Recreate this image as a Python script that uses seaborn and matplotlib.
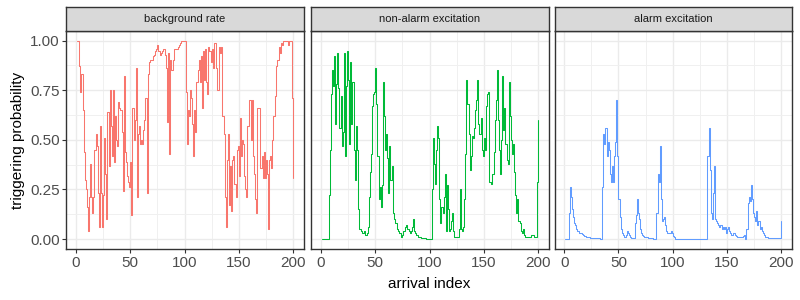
import numpy as np
import pandas as pd
import matplotlib
matplotlib.use("Agg")
import matplotlib.pyplot as plt
import seaborn as sns
from matplotlib.ticker import MultipleLocator

# facet names and colours (ggplot default hue palette)
facets = ["background rate", "non-alarm excitation", "alarm excitation"]
colors = ["#F8766D", "#00BA38", "#619CFF"]
arrival_index = np.arange(1, 201)

background_rate = [
    1.00, 1.00, 0.87, 0.74, 0.83, 0.65, 0.44, 0.30, 0.25, 0.16,
    0.04, 0.21, 0.38, 0.21, 0.13, 0.21, 0.45, 0.53, 0.47, 0.23,
    0.06, 0.57, 0.23, 0.06, 0.22, 0.51, 0.33, 0.10, 0.64, 0.37,
    0.75, 0.57, 0.42, 0.75, 0.39, 0.62, 0.50, 0.47, 0.69, 0.66,
    0.65, 0.54, 0.24, 0.82, 0.44, 0.39, 0.32, 0.29, 0.26, 0.39,
    0.12, 0.66, 0.50, 0.60, 0.86, 0.21, 0.53, 0.57, 0.48, 0.50,
    0.48, 0.55, 0.60, 0.71, 0.23, 0.83, 0.89, 0.90, 0.90, 0.90,
    0.92, 0.93, 0.95, 0.96, 0.98, 0.95, 0.93, 0.94, 0.95, 0.96,
    0.96, 0.93, 0.86, 0.59, 0.94, 0.43, 0.90, 0.85, 0.90, 0.96,
    0.96, 0.96, 0.96, 0.97, 0.98, 0.99, 1.00, 1.00, 1.00, 1.00,
    0.74, 0.48, 0.65, 0.62, 0.75, 0.71, 0.58, 0.42, 0.65, 0.54,
    0.79, 0.85, 0.90, 0.79, 0.92, 0.66, 0.95, 0.80, 0.96, 0.79,
    0.73, 0.97, 0.95, 0.89, 0.96, 0.86, 0.99, 0.99, 0.86, 0.75,
    0.75, 0.97, 0.94, 0.97, 0.62, 0.53, 0.21, 0.06, 0.40, 0.53,
    0.17, 0.37, 0.14, 0.40, 0.42, 0.28, 0.21, 0.45, 0.47, 0.32,
    0.61, 0.42, 0.50, 0.48, 0.32, 0.25, 0.21, 0.57, 0.70, 0.70,
    0.50, 0.70, 0.42, 0.33, 0.20, 0.13, 0.66, 0.66, 0.66, 0.36,
    0.42, 0.31, 0.44, 0.31, 0.40, 0.33, 0.05, 0.40, 0.42, 0.36,
    0.50, 0.62, 0.72, 0.87, 0.90, 0.90, 0.97, 0.94, 0.99, 0.98,
    1.00, 1.00, 1.00, 1.00, 0.98, 1.00, 1.00, 1.00, 0.71, 0.31,
]

non_alarm = [
    0.00, 0.00, 0.00, 0.00, 0.00, 0.00, 0.22, 0.45, 0.73, 0.85,
    0.77, 0.92, 0.58, 0.78, 0.94, 0.76, 0.56, 0.72, 0.47, 0.54,
    0.94, 0.42, 0.77, 0.95, 0.80, 0.48, 0.89, 0.58, 0.79, 0.45,
    0.30, 0.57, 0.45, 0.15, 0.05, 0.05, 0.04, 0.03, 0.03, 0.04,
    0.02, 0.03, 0.06, 0.21, 0.34, 0.43, 0.67, 0.73, 0.74, 0.86,
    0.68, 0.42, 0.20, 0.26, 0.16, 0.27, 0.79, 0.62, 0.45, 0.53,
    0.41, 0.23, 0.47, 0.30, 0.37, 0.13, 0.10, 0.08, 0.08, 0.05,
    0.04, 0.03, 0.03, 0.01, 0.02, 0.04, 0.06, 0.07, 0.05, 0.05,
    0.04, 0.03, 0.04, 0.06, 0.10, 0.04, 0.03, 0.02, 0.01, 0.01,
    0.01, 0.005, 0.005, 0.005, 0.003, 0.003, 0.00, 0.00, 0.00, 0.00,
    0.00, 0.25, 0.51, 0.38, 0.28, 0.45, 0.57, 0.51, 0.20, 0.08,
    0.16, 0.13, 0.21, 0.33, 0.04, 0.27, 0.15, 0.04, 0.05, 0.09,
    0.13, 0.04, 0.01, 0.01, 0.01, 0.01, 0.05, 0.25, 0.05, 0.04,
    0.06, 0.20, 0.43, 0.80, 0.68, 0.53, 0.35, 0.42, 0.52, 0.51,
    0.56, 0.65, 0.70, 0.80, 0.58, 0.53, 0.61, 0.45, 0.42, 0.51,
    0.45, 0.67, 0.73, 0.74, 0.29, 0.29, 0.28, 0.33, 0.44, 0.60,
    0.70, 0.85, 0.60, 0.45, 0.33, 0.50, 0.82, 0.55, 0.66, 0.48,
    0.40, 0.38, 0.79, 0.62, 0.50, 0.43, 0.48, 0.34, 0.22, 0.13,
    0.20, 0.09, 0.08, 0.04, 0.03, 0.05, 0.02, 0.01, 0.01, 0.01,
    0.01, 0.01, 0.01, 0.02, 0.02, 0.01, 0.01, 0.01, 0.29, 0.60,
]

alarm = [
    0.00, 0.00, 0.00, 0.13, 0.26, 0.21, 0.15, 0.11, 0.08, 0.07,
    0.05, 0.04, 0.04, 0.03, 0.03, 0.025, 0.02, 0.015, 0.015, 0.012,
    0.01, 0.01, 0.01, 0.006, 0.006, 0.006, 0.005, 0.005, 0.004, 0.004,
    0.003, 0.003, 0.002, 0.002, 0.26, 0.53, 0.48, 0.56, 0.42, 0.49,
    0.45, 0.33, 0.29, 0.37, 0.29, 0.42, 0.49, 0.70, 0.42, 0.20,
    0.11, 0.05, 0.03, 0.02, 0.01, 0.01, 0.02, 0.04, 0.03, 0.02,
    0.01, 0.006, 0.004, 0.003, 0.08, 0.12, 0.20, 0.13, 0.10, 0.05,
    0.03, 0.02, 0.015, 0.01, 0.01, 0.01, 0.007, 0.005, 0.004, 0.003,
    0.003, 0.002, 0.002, 0.002, 0.13, 0.33, 0.29, 0.47, 0.20, 0.09,
    0.10, 0.11, 0.07, 0.04, 0.03, 0.03, 0.03, 0.04, 0.03, 0.015,
    0.01, 0.001, 0.001, 0.001, 0.001, 0.001, 0.001, 0.001, 0.001, 0.001,
    0.001, 0.001, 0.001, 0.001, 0.001, 0.001, 0.001, 0.001, 0.001, 0.001,
    0.001, 0.001, 0.001, 0.001, 0.001, 0.001, 0.001, 0.001, 0.001, 0.001,
    0.001, 0.42, 0.56, 0.35, 0.13, 0.10, 0.23, 0.37, 0.10, 0.09,
    0.08, 0.07, 0.06, 0.07, 0.05, 0.06, 0.05, 0.06, 0.03, 0.05,
    0.06, 0.04, 0.03, 0.02, 0.02, 0.03, 0.02, 0.015, 0.01, 0.01,
    0.01, 0.01, 0.01, 0.01, 0.015, 0.02, 0.00, 0.05, 0.18, 0.21,
    0.19, 0.27, 0.20, 0.13, 0.11, 0.09, 0.14, 0.07, 0.09, 0.05,
    0.06, 0.04, 0.03, 0.02, 0.01, 0.01, 0.01, 0.003, 0.003, 0.003,
    0.003, 0.003, 0.003, 0.003, 0.003, 0.003, 0.003, 0.003, 0.003, 0.09,
]

df = pd.DataFrame({
    "arrival index": np.tile(arrival_index, 3),
    "triggering probability": background_rate + non_alarm + alarm,
    "component": np.repeat(facets, len(arrival_index)),
})

sns.set_style("white")
plt.rcParams["font.family"] = ["Liberation Sans", "DejaVu Sans"]

fig = plt.figure(figsize=(8, 3), dpi=100)

# panel layout in pixels (800 x 300 figure)
lefts = [66.3, 311.3, 554.5]
width = 237.5
top_px, bottom_px = 30.7, 249.0
strip_top = 7.3

for k, (name, col) in enumerate(zip(facets, colors)):
    ax = fig.add_axes([lefts[k] / 800, 1 - bottom_px / 300,
                       width / 800, (bottom_px - top_px) / 300])
    sub = df[df["component"] == name]
    # step line, like geom_step
    sns.lineplot(data=sub, x="arrival index", y="triggering probability",
                 color=col, linewidth=0.75, estimator=None,
                 drawstyle="steps-post", ax=ax)

    ax.set_xlim(-8.95, 209.95)
    ax.set_ylim(-0.05, 1.05)
    ax.xaxis.set_major_locator(MultipleLocator(50))
    ax.xaxis.set_minor_locator(MultipleLocator(25))
    ax.yaxis.set_major_locator(MultipleLocator(0.25))
    ax.yaxis.set_minor_locator(MultipleLocator(0.125))
    ax.grid(True, which="major", color="#EBEBEB", linewidth=1.0)
    ax.grid(True, which="minor", color="#F0F0F0", linewidth=0.7)
    ax.set_axisbelow(True)
    for s in ax.spines.values():
        s.set_color("#333333")
        s.set_linewidth(1.0)
    ax.set_xlabel("")
    ax.set_ylabel("")
    ax.tick_params(axis="both", which="major", length=2.75, width=0.8,
                   color="#333333", labelsize=11, labelcolor="#4D4D4D", pad=2)
    ax.tick_params(axis="both", which="minor", length=0)
    ax.tick_params(bottom=True, left=(k == 0))
    if k == 0:
        ax.yaxis.set_major_formatter(matplotlib.ticker.FormatStrFormatter("%.2f"))
    else:
        ax.set_yticklabels([])

    # facet strip
    sx = fig.add_axes([lefts[k] / 800, 1 - top_px / 300,
                       width / 800, (top_px - strip_top) / 300])
    sx.set_facecolor("#D9D9D9")
    sx.set_xticks([])
    sx.set_yticks([])
    for s in sx.spines.values():
        s.set_color("#333333")
        s.set_linewidth(1.0)
    sx.text(0.5, 0.5, name, ha="center", va="center", fontsize=8,
            color="#1A1A1A", transform=sx.transAxes)

fig.text((66.3 + 792) / 2 / 800, 1 - 284 / 300, "arrival index",
         ha="center", va="center", fontsize=11, color="black")
fig.text(18 / 800, 1 - 140 / 300, "triggering probability", rotation=90,
         ha="center", va="center", fontsize=11, color="black")

fig.savefig("out.png", dpi=100)
